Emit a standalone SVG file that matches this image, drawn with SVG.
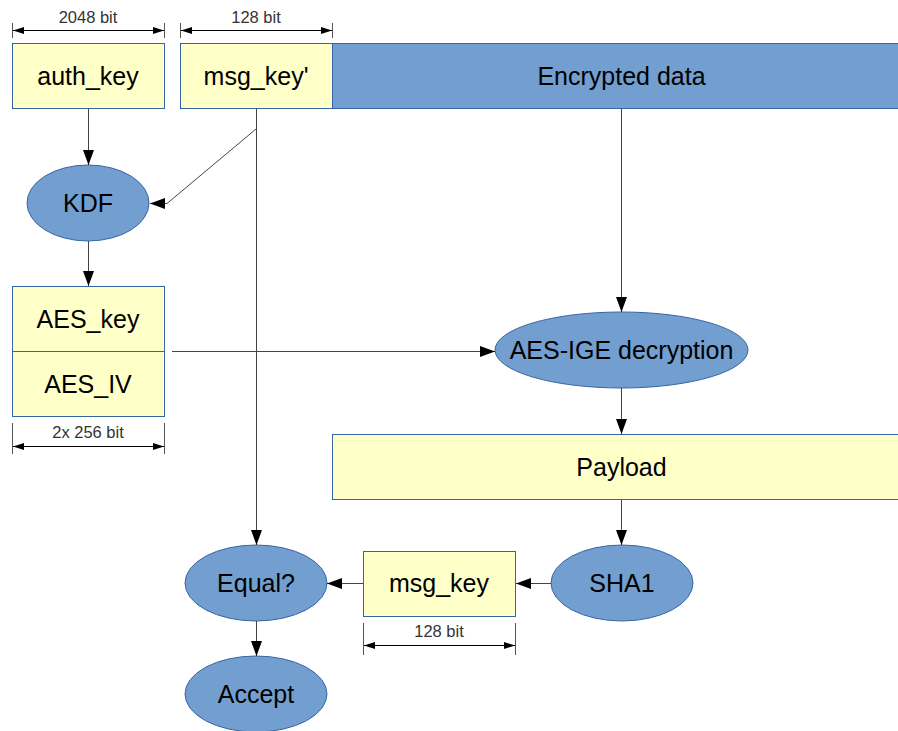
<svg xmlns="http://www.w3.org/2000/svg" width="898" height="731" viewBox="0 0 898 731">
<defs>
<marker id="arr" markerUnits="userSpaceOnUse" markerWidth="16" markerHeight="12" refX="15" refY="5.5" orient="auto"><path d="M0,0 L15,5.5 L0,11 z" fill="#000"/></marker>
<marker id="dim" markerUnits="userSpaceOnUse" markerWidth="12" markerHeight="8" refX="11" refY="3.5" orient="auto-start-reverse"><path d="M0,0 L11,3.5 L0,7 z" fill="#000"/></marker>
</defs>
<style>
.box{fill:#ffffc8;stroke:#3465a4;stroke-width:1}
.blue{fill:#729fcf;stroke:#3465a4;stroke-width:1}
.lbl{font-family:"Liberation Sans",Arial,sans-serif;font-size:25px;fill:#000;text-anchor:middle}
.dimt{font-family:"Liberation Sans",Arial,sans-serif;font-size:16.5px;fill:#333;text-anchor:middle}
.con{fill:none;stroke:#444;stroke-width:1}
.dl{fill:none;stroke:#000;stroke-width:1}
.tick{stroke:#555;stroke-width:1}
</style>
<g id="auth_key"><rect class="box" x="12.5" y="43.5" width="152" height="65"/><text class="lbl" x="88" y="84.5">auth_key</text></g>
<g id="msg_key_prime"><rect class="box" x="180.5" y="43.5" width="152" height="65"/><text class="lbl" x="256" y="84.5">msg_key'</text></g>
<g id="encrypted"><rect class="blue" x="332.5" y="43.5" width="580" height="65"/><text class="lbl" x="621.5" y="84.5">Encrypted data</text></g>
<g id="kdf"><ellipse class="blue" cx="88" cy="203" rx="61" ry="38"/><text class="lbl" x="88" y="212">KDF</text></g>
<g id="aes_key"><rect class="box" x="12.5" y="286.5" width="152" height="65"/><text class="lbl" x="88" y="328">AES_key</text></g>
<g id="aes_iv"><rect class="box" x="12.5" y="351.5" width="152" height="65"/><text class="lbl" x="88" y="393">AES_IV</text></g>
<g id="aes_ige"><ellipse class="blue" cx="621.5" cy="350" rx="126.5" ry="38"/><text class="lbl" x="621.5" y="359">AES-IGE decryption</text></g>
<g id="payload"><rect class="box" x="332.5" y="434.5" width="580" height="65"/><text class="lbl" x="621.5" y="475.5">Payload</text></g>
<g id="sha1"><ellipse class="blue" cx="622" cy="583" rx="71" ry="38"/><text class="lbl" x="622" y="592">SHA1</text></g>
<g id="msg_key"><rect class="box" x="363.5" y="551.5" width="152" height="65"/><text class="lbl" x="439" y="592">msg_key</text></g>
<g id="equal"><ellipse class="blue" cx="256" cy="583" rx="71" ry="38"/><text class="lbl" x="256" y="592">Equal?</text></g>
<g id="accept"><ellipse class="blue" cx="256" cy="694" rx="71" ry="38"/><text class="lbl" x="256" y="703">Accept</text></g>
<g id="dimensions">
<line class="tick" x1="12.5" y1="23" x2="12.5" y2="38"/><line class="tick" x1="164.5" y1="23" x2="164.5" y2="38"/>
<line class="dl" x1="13" y1="30.5" x2="164" y2="30.5" marker-start="url(#dim)" marker-end="url(#dim)"/>
<text class="dimt" x="88" y="23">2048 bit</text>
<line class="tick" x1="180.5" y1="23" x2="180.5" y2="38"/><line class="tick" x1="332.5" y1="23" x2="332.5" y2="38"/>
<line class="dl" x1="181" y1="30.5" x2="332" y2="30.5" marker-start="url(#dim)" marker-end="url(#dim)"/>
<text class="dimt" x="256" y="23">128 bit</text>
<line class="tick" x1="12.5" y1="423" x2="12.5" y2="454"/><line class="tick" x1="164.5" y1="423" x2="164.5" y2="454"/>
<line class="dl" x1="13" y1="446.5" x2="164" y2="446.5" marker-start="url(#dim)" marker-end="url(#dim)"/>
<text class="dimt" x="88" y="438">2x 256 bit</text>
<line class="tick" x1="363.5" y1="623" x2="363.5" y2="655"/><line class="tick" x1="515.5" y1="623" x2="515.5" y2="655"/>
<line class="dl" x1="364" y1="645.5" x2="515" y2="645.5" marker-start="url(#dim)" marker-end="url(#dim)"/>
<text class="dimt" x="439" y="637">128 bit</text>
</g>
<g id="connectors">
<path class="con" d="M88.5,109 V165" marker-end="url(#arr)"/>
<path class="con" d="M256.5,109 V545" marker-end="url(#arr)"/>
<path class="con" d="M256,129 L167,203.5 L150,203.5" marker-end="url(#arr)"/>
<path class="con" d="M88.5,241 V286" marker-end="url(#arr)"/>
<path class="con" d="M172,351.5 H495" marker-end="url(#arr)"/>
<path class="con" d="M621.5,109 V312" marker-end="url(#arr)"/>
<path class="con" d="M621.5,388 V434" marker-end="url(#arr)"/>
<path class="con" d="M621.5,500 V545" marker-end="url(#arr)"/>
<path class="con" d="M551,583.5 H516" marker-end="url(#arr)"/>
<path class="con" d="M363,583.5 H327" marker-end="url(#arr)"/>
<path class="con" d="M256.5,621 V656" marker-end="url(#arr)"/>
</g>
</svg>
